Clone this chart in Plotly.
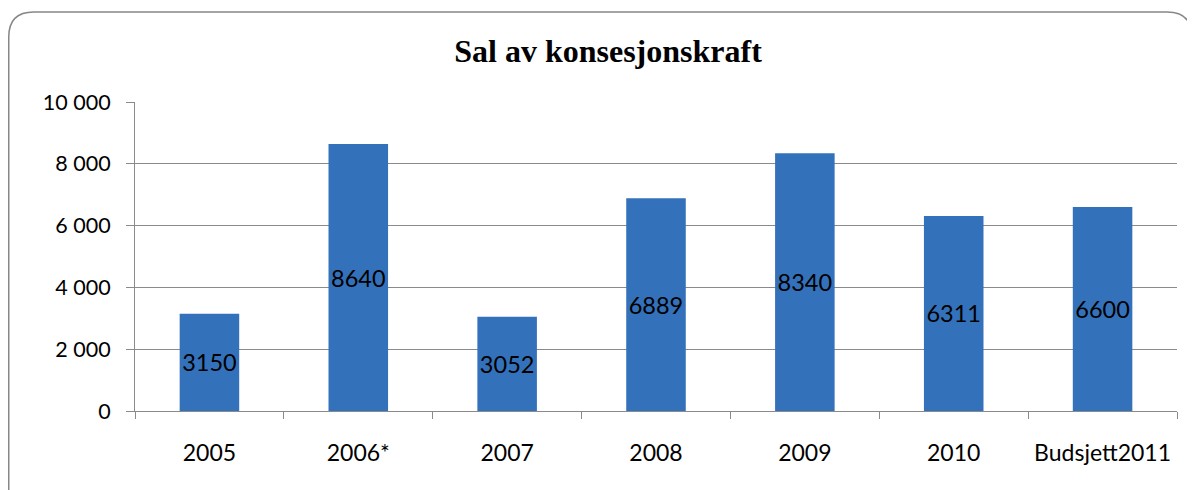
import plotly.graph_objects as go

categories = ["2005", "2006*", "2007", "2008", "2009", "2010", "Budsjett2011"]
values = [3150, 8640, 3052, 6889, 8340, 6311, 6600]
ytick_vals = [0, 2000, 4000, 6000, 8000, 10000]
ytick_text = ["0", "2 000", "4 000", "6 000", "8 000", "10 000"]

# page has an 8px body margin, so the figure is 8px smaller than the window
W, H = 1187, 482
L, R, T, B = 127, 18, 94, 79
pw, ph = W - L - R, H - T - B

def px2paper(x, y):
    return (x - L) / pw, (H - B - y) / ph

fig = go.Figure()
fig.add_trace(go.Bar(
    x=categories, y=values,
    marker=dict(color="#3471BB", line=dict(width=0)),
    width=0.40,
    text=[str(v) for v in values],
    textposition="inside",
    insidetextanchor="middle",
    textangle=0,
    textfont=dict(family="Lato, Carlito, Calibri, sans-serif", size=23.5, color="#000000"),
    constraintext="none",
    cliponaxis=False,
))

# rounded frame
x0, y0 = px2paper(0.75, 4)
x1, y1 = px2paper(1184, 520)
r = 25
rx, ry = r / pw, r / ph
path = (f"M {x0},{y1} L {x0},{y0 - ry} Q {x0},{y0} {x0 + rx},{y0} "
        f"L {x1 - rx},{y0} Q {x1},{y0} {x1},{y0 - ry} L {x1},{y1}")
fig.add_shape(type="path", path=path, xref="paper", yref="paper",
              line=dict(color="#878787", width=1.5), layer="below")

fig.update_layout(
    width=W, height=H,
    margin=dict(l=L, r=R, t=T, b=B),
    paper_bgcolor="white", plot_bgcolor="white",
    showlegend=False,
    bargap=0.6,
    title=dict(text="<b>Sal av konsesjonskraft</b>", x=600 / W, xanchor="center",
               y=1 - 43 / H, yanchor="middle", xref="container", yref="container",
               font=dict(family="Liberation Serif, Times New Roman, serif", size=32, color="#000000")),
    font=dict(family="Lato, Carlito, Calibri, sans-serif", size=18, color="#000000"),
)
fig.update_yaxes(range=[0, 10000], tickvals=ytick_vals, ticktext=ytick_text,
                 showgrid=True, gridcolor="#8a8a8a", gridwidth=1,
                 showline=True, linecolor="#8a8a8a", linewidth=1,
                 ticks="outside", ticklen=8, tickcolor="#8a8a8a",
                 zeroline=False, tickfont=dict(size=21.5), ticklabelstandoff=11)
fig.update_xaxes(showline=True, linecolor="#8a8a8a", linewidth=1,
                 ticks="outside", ticklen=7, tickcolor="#8a8a8a",
                 tickson="boundaries", showgrid=False,
                 tickfont=dict(size=23), ticklabelstandoff=21)

fig.write_html("out.html")
